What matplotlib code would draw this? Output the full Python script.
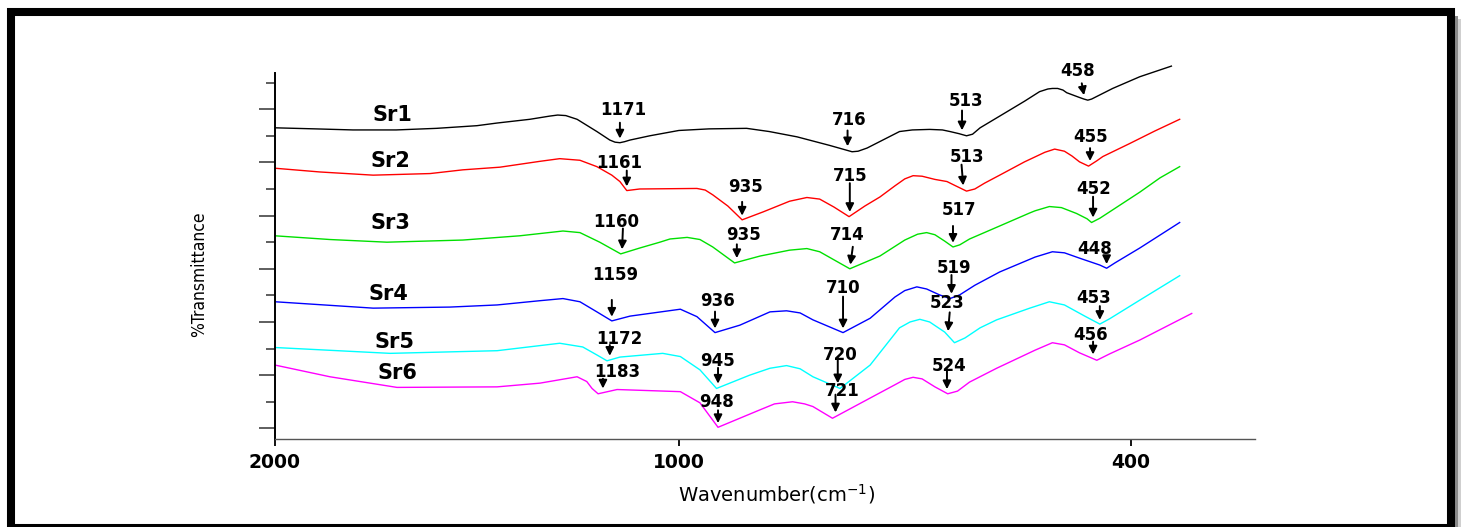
import numpy as np
import matplotlib.pyplot as plt
from matplotlib.patches import Rectangle

# x scale of the spectrometer: 2000-1000 cm-1 is drawn compressed
scale_wn = [200, 400, 1000, 2000, 2200]
scale_pos = [-1006.7, -856.0, -404.0, 0.0, 80.8]


def fwd(w):
    return np.interp(w, scale_wn, scale_pos)


def inv(s):
    return np.interp(s, scale_pos, scale_wn)


names = ['Sr1', 'Sr2', 'Sr3', 'Sr4', 'Sr5', 'Sr6']
colors = ['#000000', '#ff0000', '#00e000', '#0000ff', '#00ffff', '#ff00ff']

# spectra: wavenumber (cm-1) and transmittance (a.u., stacked)
sr1_wn = [2000, 1900, 1807, 1700, 1600, 1500, 1450, 1369, 1320, 1300, 1280, 1252, 1203, 1171,
          1158, 1146, 1134, 1121, 1072, 1000, 960, 910, 880, 843, 800, 770, 762, 750, 707, 690,
          667, 650, 640, 628, 618, 610, 600, 574, 541, 521, 510, 504, 497, 490, 485, 468,
          462, 457, 452, 424, 388, 346]
sr1_t = [58.5, 58.3, 58.1, 58.1, 58.4, 58.9, 59.4, 60.1, 60.7, 60.9, 60.8, 60.1, 57.8, 56.2,
         55.8, 55.7, 55.9, 56.2, 57.0, 58.0, 58.3, 58.4, 57.8, 56.8, 55.2, 54.0, 54.1, 54.7, 57.8, 58.1,
         58.2, 58.1, 57.8, 57.4, 57.0, 57.3, 58.5, 60.7, 63.5, 65.3, 65.8, 65.9, 65.9, 65.6, 65.1, 64.2,
         63.9, 63.7, 63.9, 65.9, 68.1, 70.1]

sr2_wn = [2000, 1889, 1757, 1616, 1535, 1443, 1344, 1295, 1245, 1203, 1166, 1146, 1129, 1097,
          976, 965, 955, 935, 916, 888, 853, 830, 813, 794, 774, 753, 733, 713, 700, 689,
          677, 660, 644, 634, 618, 607, 594, 574, 541, 514, 501, 488, 478, 468, 456, 445,
          437, 402, 368, 335]
sr2_t = [50.9, 50.2, 49.6, 49.9, 50.6, 51.1, 52.2, 52.7, 52.4, 51.2, 49.6, 48.4, 46.7, 47.0,
         47.1, 46.8, 45.9, 43.8, 41.2, 42.7, 44.7, 45.4, 45.1, 43.6, 41.8, 43.8, 45.5, 47.6, 48.9, 49.5,
         49.4, 48.8, 48.4, 47.7, 46.6, 47.0, 48.1, 49.6, 52.1, 53.9, 54.5, 54.1, 53.2, 52.1, 51.3, 52.3,
         53.1, 55.5, 57.9, 60.1]

sr3_wn = [2000, 1864, 1723, 1535, 1394, 1287, 1245, 1196, 1144, 1097, 1047, 1022, 989, 972,
          955, 926, 892, 853, 830, 813, 773, 733, 700, 683, 671, 660, 647, 636, 627, 614,
          578, 534, 527, 508, 492, 472, 458, 452, 441, 428, 388, 361, 335]
sr3_t = [38.2, 37.5, 37.0, 37.4, 38.2, 39.1, 38.8, 37.0, 34.8, 35.9, 37.0, 37.6, 37.9, 37.5,
         36.1, 33.1, 34.4, 35.5, 35.8, 35.2, 32.0, 34.4, 37.4, 38.5, 38.8, 38.4, 37.2, 36.1, 36.5, 37.6,
         39.8, 42.5, 42.9, 43.7, 43.5, 42.4, 41.4, 40.7, 41.5, 42.7, 46.4, 49.1, 51.2]

sr4_wn = [2000, 1757, 1567, 1450, 1344, 1287, 1245, 1203, 1166, 1121, 998, 976, 952, 919,
          879, 857, 839, 822, 782, 746, 713, 700, 684, 671, 654, 640, 627, 607, 574, 527,
          504, 488, 468, 441, 432, 421, 388, 335]
sr4_t = [25.8, 24.6, 24.8, 25.2, 26.0, 26.4, 25.8, 23.9, 22.2, 23.1, 24.4, 23.0, 20.0, 21.4,
         23.9, 24.1, 23.7, 22.4, 20.0, 22.7, 26.7, 27.9, 28.6, 28.2, 27.1, 26.4, 27.1, 28.9, 31.4, 34.2,
         35.2, 35.0, 34.0, 32.7, 32.1, 33.1, 35.9, 40.7]

sr5_wn = [2000, 1715, 1450, 1295, 1238, 1203, 1178, 1146, 1040, 998, 972, 950, 906, 879,
          857, 839, 822, 786, 746, 707, 693, 680, 667, 647, 634, 620, 600, 578, 534, 508,
          488, 461, 441, 428, 388, 335]
sr5_t = [17.2, 16.1, 16.6, 18.0, 17.3, 15.8, 14.7, 15.4, 16.1, 15.5, 13.0, 9.5, 12.0, 13.3,
         13.8, 13.2, 11.7, 9.5, 13.9, 20.9, 22.0, 22.5, 22.0, 20.1, 18.1, 19.0, 20.9, 22.4, 24.6, 25.8,
         25.2, 23.1, 21.6, 22.6, 26.1, 30.7]

sr6_wn = [2000, 1864, 1698, 1450, 1344, 1252, 1228, 1215, 1200, 1153, 998, 972, 948, 892,
          873, 849, 833, 822, 796, 746, 713, 700, 689, 677, 660, 643, 630, 614, 578, 527,
          504, 488, 468, 445, 428, 388, 319]
sr6_t = [13.9, 11.7, 9.7, 9.8, 10.5, 11.7, 10.8, 9.5, 8.5, 9.3, 8.9, 6.8, 2.2, 5.5,
         6.6, 7.0, 6.6, 6.1, 3.9, 7.7, 10.2, 11.2, 11.6, 11.3, 9.8, 8.5, 9.0, 10.7, 13.3, 16.7,
         18.1, 17.7, 16.2, 14.8, 16.0, 18.6, 23.6]

spectra_wn = [sr1_wn, sr2_wn, sr3_wn, sr4_wn, sr5_wn, sr6_wn]
spectra_t = [sr1_t, sr2_t, sr3_t, sr4_t, sr5_t, sr6_t]

# assigned bands (label) and the wavenumber where each arrow points
sr1_peaks = ['1171', '716', '513', '458']
sr1_peak_wn = [1146, 776, 624, 461]
sr2_peaks = ['1161', '935', '715', '513', '455']
sr2_peak_wn = [1129, 916, 773, 622, 454]
sr3_peaks = ['1160', '935', '714', '517', '452']
sr3_peak_wn = [1141, 923, 773, 636, 450]
sr4_peaks = ['1159', '936', '710', '519', '448']
sr4_peak_wn = [1166, 952, 782, 638, 432]
sr5_peaks = ['1172', '945', '720', '523', '453']
sr5_peak_wn = [1171, 948, 789, 643, 441]
sr6_peaks = ['1183', '948', '721', '524', '456']
sr6_peak_wn = [1188, 948, 792, 644, 450]

peaks = [sr1_peaks, sr2_peaks, sr3_peaks, sr4_peaks, sr5_peaks, sr6_peaks]
peaks_wn = [sr1_peak_wn, sr2_peak_wn, sr3_peak_wn, sr4_peak_wn, sr5_peak_wn, sr6_peak_wn]

# arrow tail / label offsets (pixels from the point on the curve)
arrow_off = [
    [(0, 20), (0, 20), (0, 24), (-3, 16)],
    [(0, 20), (0, 18), (0, 33), (-2, 25), (0, 17)],
    [(1, 25), (0, 18), (3, 22), (0, 21), (0, 25)],
    [(0, 21), (0, 21), (0, 36), (0, 23), (0, 11)],
    [(0, 15), (0, 20), (0, 29), (2, 23), (0, 18)],
    [(0, 14), (0, 17), (0, 22), (0, 24), (0, 17)],
]
text_off = [
    [(3, 33), (2, 30), (4, 34), (-7, 28)],
    [(-8, 28), (3, 33), (0, 40), (4, 33), (1, 28)],
    [(-6, 32), (7, 27), (-3, 34), (6, 37), (1, 33)],
    [(3, 46), (2, 32), (0, 45), (3, 30), (-12, 19)],
    [(10, 21), (-1, 27), (2, 32), (-1, 32), (-6, 26)],
    [(14, 21), (-2, 25), (7, 26), (2, 27), (-2, 24)],
]
label_pos = [(1708, 61.0), (1713, 52.3), (1713, 40.6), (1718, 27.3), (1705, 18.3), (1696, 12.5)]

fig = plt.figure(figsize=(14.61, 5.27), dpi=100)
ax = fig.add_axes([275 / 1461, 88 / 527, 980 / 1461, 383 / 527])
ax.set_xscale('function', functions=(fwd, inv))

for wn, t, c in zip(spectra_wn, spectra_t, colors):
    ax.plot(wn, t, color=c, lw=1.0)

for wn, t, labs, pw, aoffs, toffs in zip(spectra_wn, spectra_t, peaks, peaks_wn, arrow_off, text_off):
    for lab, w, ao, to in zip(labs, pw, aoffs, toffs):
        y = np.interp(w, wn[::-1], t[::-1])
        ax.annotate('', xy=(w, y), xytext=ao, textcoords='offset pixels',
                    arrowprops=dict(arrowstyle='-|>', color='black', lw=1.4,
                                    shrinkA=0, shrinkB=3, mutation_scale=12))
        ax.annotate(lab, xy=(w, y), xytext=to, textcoords='offset pixels',
                    ha='center', va='center', fontsize=12, fontweight='bold',
                    family='DejaVu Sans')

for name, (lx, ly) in zip(names, label_pos):
    ax.text(lx, ly, name, ha='center', va='center', fontsize=15, fontweight='bold',
            family='DejaVu Sans')

ax.set_xlim(2000, 235)
ax.set_ylim(0, 72)
ax.set_xticks([2000, 1000, 400])
ax.set_xticklabels(['2000', '1000', '400'], fontsize=13.5, fontweight='bold')
ax.set_xticks([], minor=True)
ax.set_yticks(np.arange(2, 63, 10))
ax.set_yticks(np.arange(7, 68, 10), minor=True)
ax.set_yticklabels([])
ax.tick_params(axis='y', which='major', direction='out', length=11.5, width=1.1, color='#333333')
ax.tick_params(axis='y', which='minor', direction='out', length=6.5, width=1.1, color='#333333')
ax.tick_params(axis='x', direction='out', length=5, width=1.3, color='black', pad=5)

for side in ['top', 'right']:
    ax.spines[side].set_visible(False)
ax.spines['left'].set_bounds(0, 68.8)
ax.spines['left'].set_linewidth(1.4)
ax.spines['left'].set_color('black')
ax.spines['bottom'].set_linewidth(1.0)
ax.spines['bottom'].set_color('#555555')

ax.set_xlabel('Wavenumber(cm$^{-1}$)', fontsize=14, family='DejaVu Sans')
ax.xaxis.set_label_coords(0.512, -0.112)
ax.set_ylabel('%Transmittance', fontsize=12.5, family='DejaVu Sans', fontstretch='condensed')
ax.yaxis.set_label_coords(-0.068, 0.431)

# framed panel with a soft shadow on the right
fig.add_artist(Rectangle((1455 / 1461, 0), 3 / 1461, 511 / 527, transform=fig.transFigure,
                         facecolor='#8a8a8a', edgecolor='none', zorder=0))
fig.add_artist(Rectangle((1458 / 1461, 0), 3 / 1461, 508 / 527, transform=fig.transFigure,
                         facecolor='#cfcfcf', edgecolor='none', zorder=0))
fig.add_artist(Rectangle((11 / 1461, -1 / 527), 1440 / 1461, 516 / 527, transform=fig.transFigure,
                         fill=False, edgecolor='black', lw=5.8, zorder=1))

fig.savefig('out.png', dpi=100)
